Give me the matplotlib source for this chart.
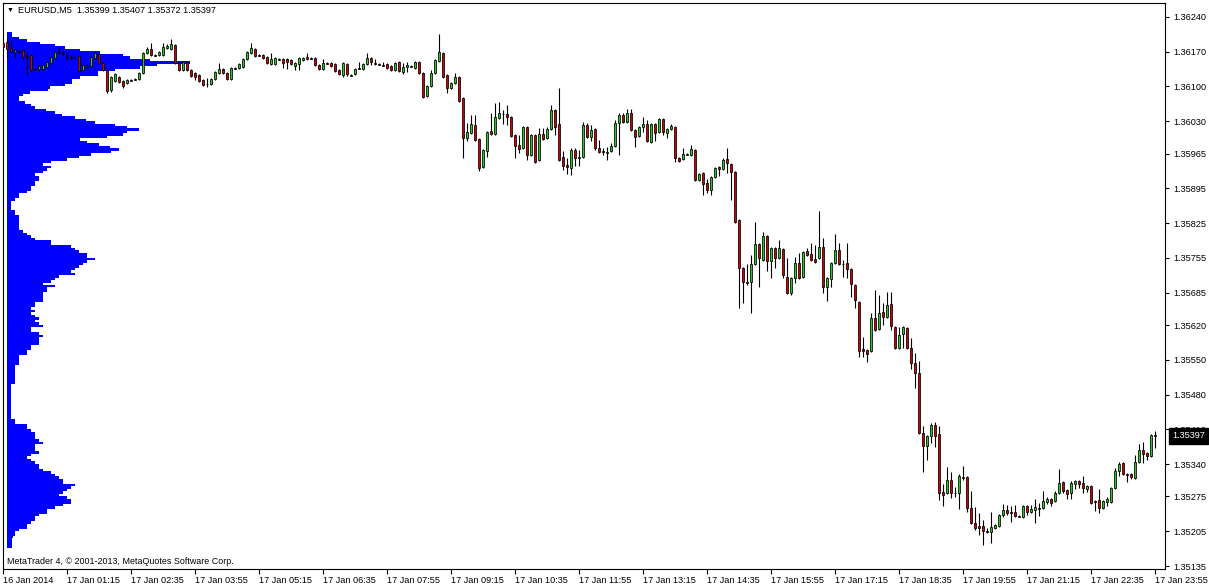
import matplotlib
matplotlib.use("Agg")
import matplotlib.pyplot as plt
import numpy as np
from matplotlib.transforms import blended_transform_factory

plt.rcParams["font.family"] = ["Liberation Sans", "DejaVu Sans"]

SYMBOL = "EURUSD,M5"
COPYRIGHT = "MetaTrader 4, \u00a9 2001-2013, MetaQuotes Software Corp."

# M5 bars, 16 Jan 23:55 .. 17 Jan 23:55
OPEN = [
    1.36187, 1.36189, 1.36177, 1.36169, 1.36171, 1.36173, 1.36161, 1.36163, 1.36135, 1.36135,
    1.36135, 1.36139, 1.36147, 1.36157, 1.36169, 1.36167, 1.36163, 1.36159, 1.36159, 1.36161,
    1.36133, 1.36139, 1.36141, 1.36157, 1.36165, 1.36147, 1.36133, 1.36093, 1.36111, 1.36119,
    1.36111, 1.36107, 1.36113, 1.36115, 1.36115, 1.36127, 1.36167, 1.36175, 1.36163, 1.36163,
    1.36163, 1.36177, 1.36175, 1.36183, 1.36147, 1.36133, 1.36149, 1.36133, 1.36127, 1.36123,
    1.36113, 1.36105, 1.36105, 1.36115, 1.36127, 1.36135, 1.36127, 1.36115, 1.36137, 1.36137,
    1.36139, 1.36155, 1.36167, 1.36175, 1.36163, 1.36163, 1.36159, 1.36145, 1.36145, 1.36155,
    1.36155, 1.36155, 1.36153, 1.36141, 1.36145, 1.36153, 1.36159, 1.36157, 1.36157, 1.36143,
    1.36135, 1.36147, 1.36147, 1.36145, 1.36133, 1.36123, 1.36145, 1.36123, 1.36125, 1.36137,
    1.36135, 1.36145, 1.36157, 1.36147, 1.36145, 1.36143, 1.36145, 1.36141, 1.36133, 1.36149,
    1.36129, 1.36139, 1.36141, 1.36137, 1.36149, 1.36127, 1.36081, 1.36101, 1.36127, 1.36151,
    1.36167, 1.36123, 1.36097, 1.36107, 1.36119, 1.36077, 1.35996, 1.36006, 1.36022, 1.35994,
    1.35938, 1.35970, 1.36010, 1.36004, 1.36036, 1.36045, 1.36045, 1.36038, 1.36002, 1.35982,
    1.35976, 1.36018, 1.35962, 1.36002, 1.35952, 1.36004, 1.35996, 1.36014, 1.36053, 1.36024,
    1.35958, 1.35942, 1.35936, 1.35972, 1.35956, 1.35958, 1.36022, 1.35998, 1.36014, 1.35976,
    1.35970, 1.35968, 1.35970, 1.35980, 1.36026, 1.36042, 1.36028, 1.36047, 1.36012, 1.36000,
    1.36018, 1.36024, 1.35988, 1.36024, 1.36008, 1.36034, 1.36006, 1.36014, 1.36018, 1.35956,
    1.35954, 1.35964, 1.35962, 1.35972, 1.35912, 1.35926, 1.35906, 1.35892, 1.35918, 1.35938,
    1.35934, 1.35954, 1.35944, 1.35928, 1.35831, 1.35735, 1.35706, 1.35706, 1.35743, 1.35783,
    1.35751, 1.35799, 1.35749, 1.35775, 1.35755, 1.35773, 1.35716, 1.35684, 1.35714, 1.35745,
    1.35716, 1.35769, 1.35763, 1.35753, 1.35755, 1.35777, 1.35696, 1.35712, 1.35745, 1.35771,
    1.35743, 1.35745, 1.35732, 1.35700, 1.35666, 1.35571, 1.35569, 1.35567, 1.35634, 1.35612,
    1.35646, 1.35636, 1.35662, 1.35616, 1.35573, 1.35602, 1.35614, 1.35573, 1.35543, 1.35523,
    1.35402, 1.35376, 1.35396, 1.35419, 1.35400, 1.35284, 1.35282, 1.35308, 1.35282, 1.35282,
    1.35314, 1.35314, 1.35251, 1.35221, 1.35215, 1.35215, 1.35205, 1.35203, 1.35211, 1.35215,
    1.35237, 1.35247, 1.35243, 1.35243, 1.35235, 1.35233, 1.35255, 1.35243, 1.35247, 1.35251,
    1.35251, 1.35263, 1.35270, 1.35265, 1.35282, 1.35304, 1.35288, 1.35282, 1.35300, 1.35306,
    1.35302, 1.35290, 1.35296, 1.35265, 1.35267, 1.35251, 1.35263, 1.35263, 1.35292, 1.35326,
    1.35342, 1.35320, 1.35320, 1.35312, 1.35344, 1.35368, 1.35362, 1.35356, 1.35399,
]
HIGH = [
    1.36191, 1.36198, 1.36193, 1.36175, 1.36173, 1.36177, 1.36169, 1.36165, 1.36137, 1.36145,
    1.36145, 1.36151, 1.36161, 1.36171, 1.36177, 1.36171, 1.36169, 1.36163, 1.36161, 1.36163,
    1.36145, 1.36145, 1.36161, 1.36169, 1.36167, 1.36149, 1.36135, 1.36121, 1.36127, 1.36121,
    1.36113, 1.36115, 1.36115, 1.36117, 1.36129, 1.36169, 1.36179, 1.36187, 1.36165, 1.36171,
    1.36187, 1.36185, 1.36195, 1.36185, 1.36149, 1.36151, 1.36151, 1.36135, 1.36129, 1.36125,
    1.36115, 1.36117, 1.36117, 1.36131, 1.36147, 1.36137, 1.36129, 1.36139, 1.36139, 1.36147,
    1.36157, 1.36171, 1.36187, 1.36177, 1.36165, 1.36165, 1.36161, 1.36167, 1.36159, 1.36157,
    1.36157, 1.36157, 1.36155, 1.36149, 1.36159, 1.36159, 1.36167, 1.36159, 1.36159, 1.36145,
    1.36155, 1.36149, 1.36149, 1.36147, 1.36135, 1.36149, 1.36147, 1.36125, 1.36137, 1.36149,
    1.36147, 1.36167, 1.36159, 1.36155, 1.36147, 1.36149, 1.36147, 1.36143, 1.36149, 1.36151,
    1.36147, 1.36149, 1.36143, 1.36151, 1.36151, 1.36129, 1.36103, 1.36133, 1.36155, 1.36206,
    1.36169, 1.36125, 1.36109, 1.36127, 1.36121, 1.36079, 1.36026, 1.36042, 1.36042, 1.35996,
    1.35974, 1.36010, 1.36047, 1.36067, 1.36069, 1.36053, 1.36063, 1.36040, 1.36004, 1.36002,
    1.36020, 1.36020, 1.36004, 1.36004, 1.36016, 1.36016, 1.36018, 1.36063, 1.36055, 1.36097,
    1.35970, 1.35956, 1.35976, 1.35976, 1.35972, 1.36028, 1.36026, 1.36022, 1.36016, 1.35992,
    1.35976, 1.35978, 1.35986, 1.36032, 1.36047, 1.36047, 1.36055, 1.36055, 1.36014, 1.36020,
    1.36038, 1.36032, 1.36026, 1.36026, 1.36036, 1.36036, 1.36016, 1.36024, 1.36020, 1.35958,
    1.35976, 1.35966, 1.35982, 1.35974, 1.35926, 1.35928, 1.35914, 1.35920, 1.35938, 1.35940,
    1.35956, 1.35976, 1.35946, 1.35930, 1.35833, 1.35737, 1.35743, 1.35761, 1.35827, 1.35785,
    1.35807, 1.35801, 1.35777, 1.35777, 1.35791, 1.35775, 1.35755, 1.35716, 1.35757, 1.35765,
    1.35769, 1.35775, 1.35785, 1.35781, 1.35849, 1.35795, 1.35716, 1.35747, 1.35803, 1.35785,
    1.35751, 1.35785, 1.35734, 1.35702, 1.35668, 1.35595, 1.35571, 1.35644, 1.35690, 1.35680,
    1.35664, 1.35686, 1.35686, 1.35618, 1.35616, 1.35618, 1.35616, 1.35593, 1.35563, 1.35547,
    1.35416, 1.35398, 1.35423, 1.35425, 1.35416, 1.35300, 1.35335, 1.35324, 1.35294, 1.35320,
    1.35336, 1.35316, 1.35286, 1.35253, 1.35241, 1.35227, 1.35211, 1.35243, 1.35219, 1.35239,
    1.35259, 1.35257, 1.35255, 1.35257, 1.35237, 1.35257, 1.35257, 1.35257, 1.35270, 1.35261,
    1.35286, 1.35274, 1.35272, 1.35286, 1.35330, 1.35306, 1.35290, 1.35306, 1.35308, 1.35308,
    1.35316, 1.35298, 1.35298, 1.35267, 1.35290, 1.35267, 1.35274, 1.35294, 1.35332, 1.35344,
    1.35344, 1.35322, 1.35322, 1.35358, 1.35380, 1.35384, 1.35364, 1.35400, 1.35407,
]
LOW = [
    1.36177, 1.36159, 1.36167, 1.36157, 1.36167, 1.36153, 1.36123, 1.36129, 1.36133, 1.36129,
    1.36133, 1.36137, 1.36145, 1.36155, 1.36167, 1.36163, 1.36153, 1.36153, 1.36155, 1.36129,
    1.36131, 1.36137, 1.36139, 1.36155, 1.36145, 1.36131, 1.36087, 1.36089, 1.36109, 1.36107,
    1.36097, 1.36105, 1.36111, 1.36113, 1.36113, 1.36125, 1.36165, 1.36161, 1.36161, 1.36161,
    1.36161, 1.36175, 1.36173, 1.36145, 1.36131, 1.36131, 1.36131, 1.36119, 1.36113, 1.36109,
    1.36101, 1.36099, 1.36103, 1.36113, 1.36125, 1.36125, 1.36113, 1.36113, 1.36135, 1.36135,
    1.36137, 1.36153, 1.36165, 1.36159, 1.36161, 1.36155, 1.36145, 1.36143, 1.36143, 1.36153,
    1.36137, 1.36135, 1.36143, 1.36133, 1.36133, 1.36151, 1.36153, 1.36155, 1.36141, 1.36133,
    1.36133, 1.36145, 1.36139, 1.36129, 1.36123, 1.36119, 1.36121, 1.36121, 1.36123, 1.36135,
    1.36133, 1.36143, 1.36143, 1.36143, 1.36143, 1.36141, 1.36135, 1.36131, 1.36131, 1.36129,
    1.36125, 1.36129, 1.36139, 1.36135, 1.36125, 1.36077, 1.36079, 1.36099, 1.36125, 1.36149,
    1.36117, 1.36087, 1.36095, 1.36105, 1.36069, 1.35956, 1.35990, 1.36004, 1.35990, 1.35930,
    1.35936, 1.35958, 1.36002, 1.36002, 1.36034, 1.36024, 1.36022, 1.35998, 1.35956, 1.35966,
    1.35974, 1.35952, 1.35960, 1.35946, 1.35950, 1.35992, 1.35994, 1.36012, 1.36002, 1.35950,
    1.35932, 1.35924, 1.35922, 1.35940, 1.35940, 1.35956, 1.35996, 1.35990, 1.35972, 1.35966,
    1.35962, 1.35952, 1.35968, 1.35978, 1.35962, 1.36026, 1.36026, 1.36010, 1.35978, 1.35998,
    1.36008, 1.35988, 1.35986, 1.35990, 1.36006, 1.36002, 1.35996, 1.36012, 1.35948, 1.35948,
    1.35952, 1.35962, 1.35960, 1.35910, 1.35910, 1.35881, 1.35886, 1.35881, 1.35916, 1.35920,
    1.35932, 1.35926, 1.35871, 1.35825, 1.35654, 1.35664, 1.35700, 1.35644, 1.35741, 1.35696,
    1.35749, 1.35728, 1.35714, 1.35735, 1.35753, 1.35714, 1.35682, 1.35680, 1.35704, 1.35712,
    1.35714, 1.35759, 1.35749, 1.35745, 1.35753, 1.35684, 1.35668, 1.35696, 1.35743, 1.35741,
    1.35716, 1.35714, 1.35676, 1.35654, 1.35555, 1.35555, 1.35545, 1.35565, 1.35608, 1.35610,
    1.35620, 1.35634, 1.35610, 1.35571, 1.35571, 1.35573, 1.35571, 1.35531, 1.35493, 1.35400,
    1.35324, 1.35348, 1.35382, 1.35374, 1.35267, 1.35255, 1.35280, 1.35272, 1.35274, 1.35249,
    1.35308, 1.35243, 1.35219, 1.35207, 1.35197, 1.35177, 1.35201, 1.35181, 1.35209, 1.35213,
    1.35233, 1.35237, 1.35223, 1.35233, 1.35233, 1.35231, 1.35237, 1.35241, 1.35221, 1.35235,
    1.35249, 1.35259, 1.35255, 1.35263, 1.35280, 1.35282, 1.35270, 1.35270, 1.35290, 1.35292,
    1.35282, 1.35284, 1.35259, 1.35245, 1.35241, 1.35249, 1.35255, 1.35261, 1.35290, 1.35316,
    1.35318, 1.35304, 1.35310, 1.35310, 1.35342, 1.35342, 1.35348, 1.35354, 1.35372,
]
CLOSE = [
    1.36179, 1.36175, 1.36171, 1.36173, 1.36170, 1.36159, 1.36160, 1.36133, 1.36134, 1.36141,
    1.36143, 1.36149, 1.36159, 1.36169, 1.36168, 1.36166, 1.36162, 1.36158, 1.36159, 1.36131,
    1.36143, 1.36141, 1.36159, 1.36167, 1.36147, 1.36133, 1.36091, 1.36119, 1.36125, 1.36109,
    1.36101, 1.36113, 1.36112, 1.36114, 1.36127, 1.36167, 1.36175, 1.36163, 1.36162, 1.36169,
    1.36179, 1.36181, 1.36185, 1.36147, 1.36133, 1.36149, 1.36133, 1.36121, 1.36119, 1.36111,
    1.36103, 1.36104, 1.36115, 1.36129, 1.36135, 1.36127, 1.36115, 1.36137, 1.36136, 1.36145,
    1.36155, 1.36169, 1.36177, 1.36161, 1.36162, 1.36157, 1.36147, 1.36155, 1.36157, 1.36154,
    1.36147, 1.36149, 1.36145, 1.36147, 1.36157, 1.36157, 1.36155, 1.36156, 1.36143, 1.36135,
    1.36147, 1.36146, 1.36141, 1.36131, 1.36125, 1.36147, 1.36125, 1.36122, 1.36135, 1.36136,
    1.36145, 1.36157, 1.36149, 1.36146, 1.36144, 1.36142, 1.36137, 1.36133, 1.36147, 1.36131,
    1.36139, 1.36143, 1.36140, 1.36149, 1.36127, 1.36079, 1.36101, 1.36127, 1.36153, 1.36169,
    1.36119, 1.36097, 1.36107, 1.36119, 1.36071, 1.35996, 1.36008, 1.36024, 1.35992, 1.35936,
    1.35972, 1.36008, 1.36004, 1.36038, 1.36047, 1.36044, 1.36038, 1.36000, 1.35980, 1.35974,
    1.36018, 1.35962, 1.36002, 1.35948, 1.36004, 1.35994, 1.36014, 1.36053, 1.36018, 1.35952,
    1.35940, 1.35938, 1.35972, 1.35956, 1.35958, 1.36022, 1.35998, 1.36012, 1.35976, 1.35968,
    1.35969, 1.35967, 1.35980, 1.36026, 1.36042, 1.36028, 1.36047, 1.36012, 1.35998, 1.36018,
    1.36024, 1.35990, 1.36024, 1.36006, 1.36034, 1.36008, 1.36014, 1.36020, 1.35956, 1.35950,
    1.35964, 1.35963, 1.35974, 1.35912, 1.35924, 1.35904, 1.35892, 1.35918, 1.35936, 1.35934,
    1.35952, 1.35946, 1.35928, 1.35827, 1.35735, 1.35706, 1.35705, 1.35743, 1.35783, 1.35755,
    1.35799, 1.35749, 1.35775, 1.35755, 1.35775, 1.35720, 1.35684, 1.35714, 1.35745, 1.35714,
    1.35767, 1.35761, 1.35751, 1.35747, 1.35777, 1.35696, 1.35714, 1.35745, 1.35771, 1.35743,
    1.35742, 1.35732, 1.35702, 1.35670, 1.35567, 1.35567, 1.35561, 1.35634, 1.35610, 1.35644,
    1.35636, 1.35660, 1.35618, 1.35573, 1.35600, 1.35616, 1.35573, 1.35543, 1.35523, 1.35402,
    1.35376, 1.35396, 1.35419, 1.35396, 1.35282, 1.35278, 1.35308, 1.35282, 1.35281, 1.35316,
    1.35313, 1.35251, 1.35221, 1.35211, 1.35211, 1.35205, 1.35204, 1.35213, 1.35217, 1.35237,
    1.35247, 1.35241, 1.35242, 1.35235, 1.35234, 1.35255, 1.35243, 1.35249, 1.35253, 1.35250,
    1.35265, 1.35270, 1.35261, 1.35282, 1.35302, 1.35286, 1.35280, 1.35302, 1.35306, 1.35300,
    1.35292, 1.35296, 1.35261, 1.35264, 1.35251, 1.35265, 1.35270, 1.35292, 1.35326, 1.35340,
    1.35320, 1.35319, 1.35314, 1.35344, 1.35368, 1.35360, 1.35356, 1.35398, 1.35397,
]

TIME_LABELS = [
    "16 Jan 2014", "17 Jan 01:15", "17 Jan 02:35", "17 Jan 03:55", "17 Jan 05:15",
    "17 Jan 06:35", "17 Jan 07:55", "17 Jan 09:15", "17 Jan 10:35", "17 Jan 11:55",
    "17 Jan 13:15", "17 Jan 14:35", "17 Jan 15:55", "17 Jan 17:15", "17 Jan 18:35",
    "17 Jan 19:55", "17 Jan 21:15", "17 Jan 22:35", "17 Jan 23:55",
]
BARS_PER_LABEL = 16

PRICE_TICKS = [
    1.36240, 1.36170, 1.36100, 1.36030, 1.35965, 1.35895, 1.35825, 1.35755, 1.35685,
    1.35620, 1.35550, 1.35480, 1.35410, 1.35340, 1.35275, 1.35205, 1.35135,
]

# volume-at-price profile, from the top price level downwards
PROFILE_TOP = 1.36208
PROFILE_STEP = 0.00005
PROFILE_VOLUME = [
    5, 5, 12, 20, 33, 48, 58, 73, 93, 116,
    123, 143, 183, 150, 133, 108, 91, 91, 73, 65,
    65, 58, 43, 41, 23, 16, 12, 12, 18, 24,
    28, 39, 48, 55, 68, 79, 88, 108, 120, 132,
    120, 116, 100, 73, 80, 92, 103, 112, 104, 84,
    72, 60, 44, 36, 44, 40, 36, 28, 32, 32,
    28, 28, 24, 24, 20, 12, 12, 8, 4, 4,
    4, 4, 8, 8, 12, 12, 12, 12, 12, 12,
    16, 20, 24, 28, 44, 44, 64, 68, 72, 80,
    80, 88, 80, 76, 72, 68, 64, 68, 52, 48,
    44, 36, 48, 40, 40, 36, 36, 36, 36, 28,
    28, 24, 28, 24, 28, 32, 28, 32, 36, 24,
    24, 32, 36, 32, 32, 32, 24, 24, 20, 20,
    12, 12, 12, 12, 8, 8, 8, 8, 8, 8,
    8, 8, 4, 4, 4, 4, 4, 4, 4, 4,
    4, 4, 4, 4, 4, 4, 8, 8, 20, 20,
    24, 28, 28, 28, 32, 36, 28, 28, 28, 32,
    24, 20, 24, 28, 32, 32, 36, 44, 48, 52,
    56, 56, 68, 64, 60, 56, 52, 60, 64, 64,
    56, 48, 40, 40, 32, 28, 28, 24, 20, 20,
    12, 8, 8, 6, 5, 5, 5, 5,
]

BULL = "#22cc22"
BEAR = "#d00000"
PROFILE_COLOR = "#0000ff"

W, H = 1209, 587
fig = plt.figure(figsize=(W / 100, H / 100), dpi=100, facecolor="white")
rect = [3 / W, 18 / H, 1162 / W, 566 / H]
y_range = (1.35129, 1.36268)

# profile sits behind the candles
ax_vp = fig.add_axes(rect)
levels = PROFILE_TOP - PROFILE_STEP * np.arange(len(PROFILE_VOLUME))
ax_vp.barh(levels, PROFILE_VOLUME, height=PROFILE_STEP, color=PROFILE_COLOR,
           linewidth=0, antialiased=False)
ax_vp.set_xlim(-4, 1158)
ax_vp.set_ylim(*y_range)
ax_vp.axis("off")

ax = fig.add_axes(rect)
ax.patch.set_visible(False)

o = np.array(OPEN)
c = np.array(CLOSE)
x = np.arange(len(o))
colors = [BULL if cc > oo else BEAR for oo, cc in zip(o, c)]
ax.vlines(x, LOW, HIGH, color="black", linewidth=0.8, zorder=2)
ax.bar(x, np.abs(c - o), bottom=np.minimum(o, c), width=0.72, color=colors,
       edgecolor="black", linewidth=0.55, zorder=3)

ax.set_xlim(0, 290.5)
ax.set_ylim(*y_range)

for s in ax.spines.values():
    s.set_linewidth(0.8)
    s.set_color("black")

ax.yaxis.tick_right()
ax.set_yticks(PRICE_TICKS)
ax.set_yticklabels([f"{p:.5f}" for p in PRICE_TICKS])
ax.tick_params(axis="y", direction="out", length=3, width=0.8, pad=3, labelsize=6.6)

ax.set_xticks(np.arange(len(TIME_LABELS)) * BARS_PER_LABEL)
ax.set_xticklabels(TIME_LABELS, ha="left")
ax.tick_params(axis="x", direction="out", length=3.5, width=0.8, pad=1.5, labelsize=6.6)

# last price tag on the price scale, drawn over the nearest tick label as MT4 does
trans = blended_transform_factory(ax.transAxes, ax.transData)
ax.annotate(f"{CLOSE[-1]:.5f}", xy=(1, CLOSE[-1]), xycoords=trans,
            xytext=(7, 0), textcoords="offset pixels", ha="left", va="center",
            color="white", fontsize=6.6, annotation_clip=False, zorder=5,
            bbox=dict(boxstyle="square,pad=0.35", facecolor="black", edgecolor="black"))

header = f"{SYMBOL}  {OPEN[-1]:.5f} {HIGH[-1]:.5f} {LOW[-1]:.5f} {CLOSE[-1]:.5f}"
fig.text(7 / W, 1 - 10 / H, "\u25bc", fontsize=5, va="center", ha="left")
fig.text(18 / W, 1 - 10 / H, header, fontsize=6.6, va="center", ha="left")
fig.text(7 / W, 1 - 561 / H, COPYRIGHT, fontsize=6.4, va="center", ha="left")

fig.savefig("out.png", dpi=100, facecolor="white")
